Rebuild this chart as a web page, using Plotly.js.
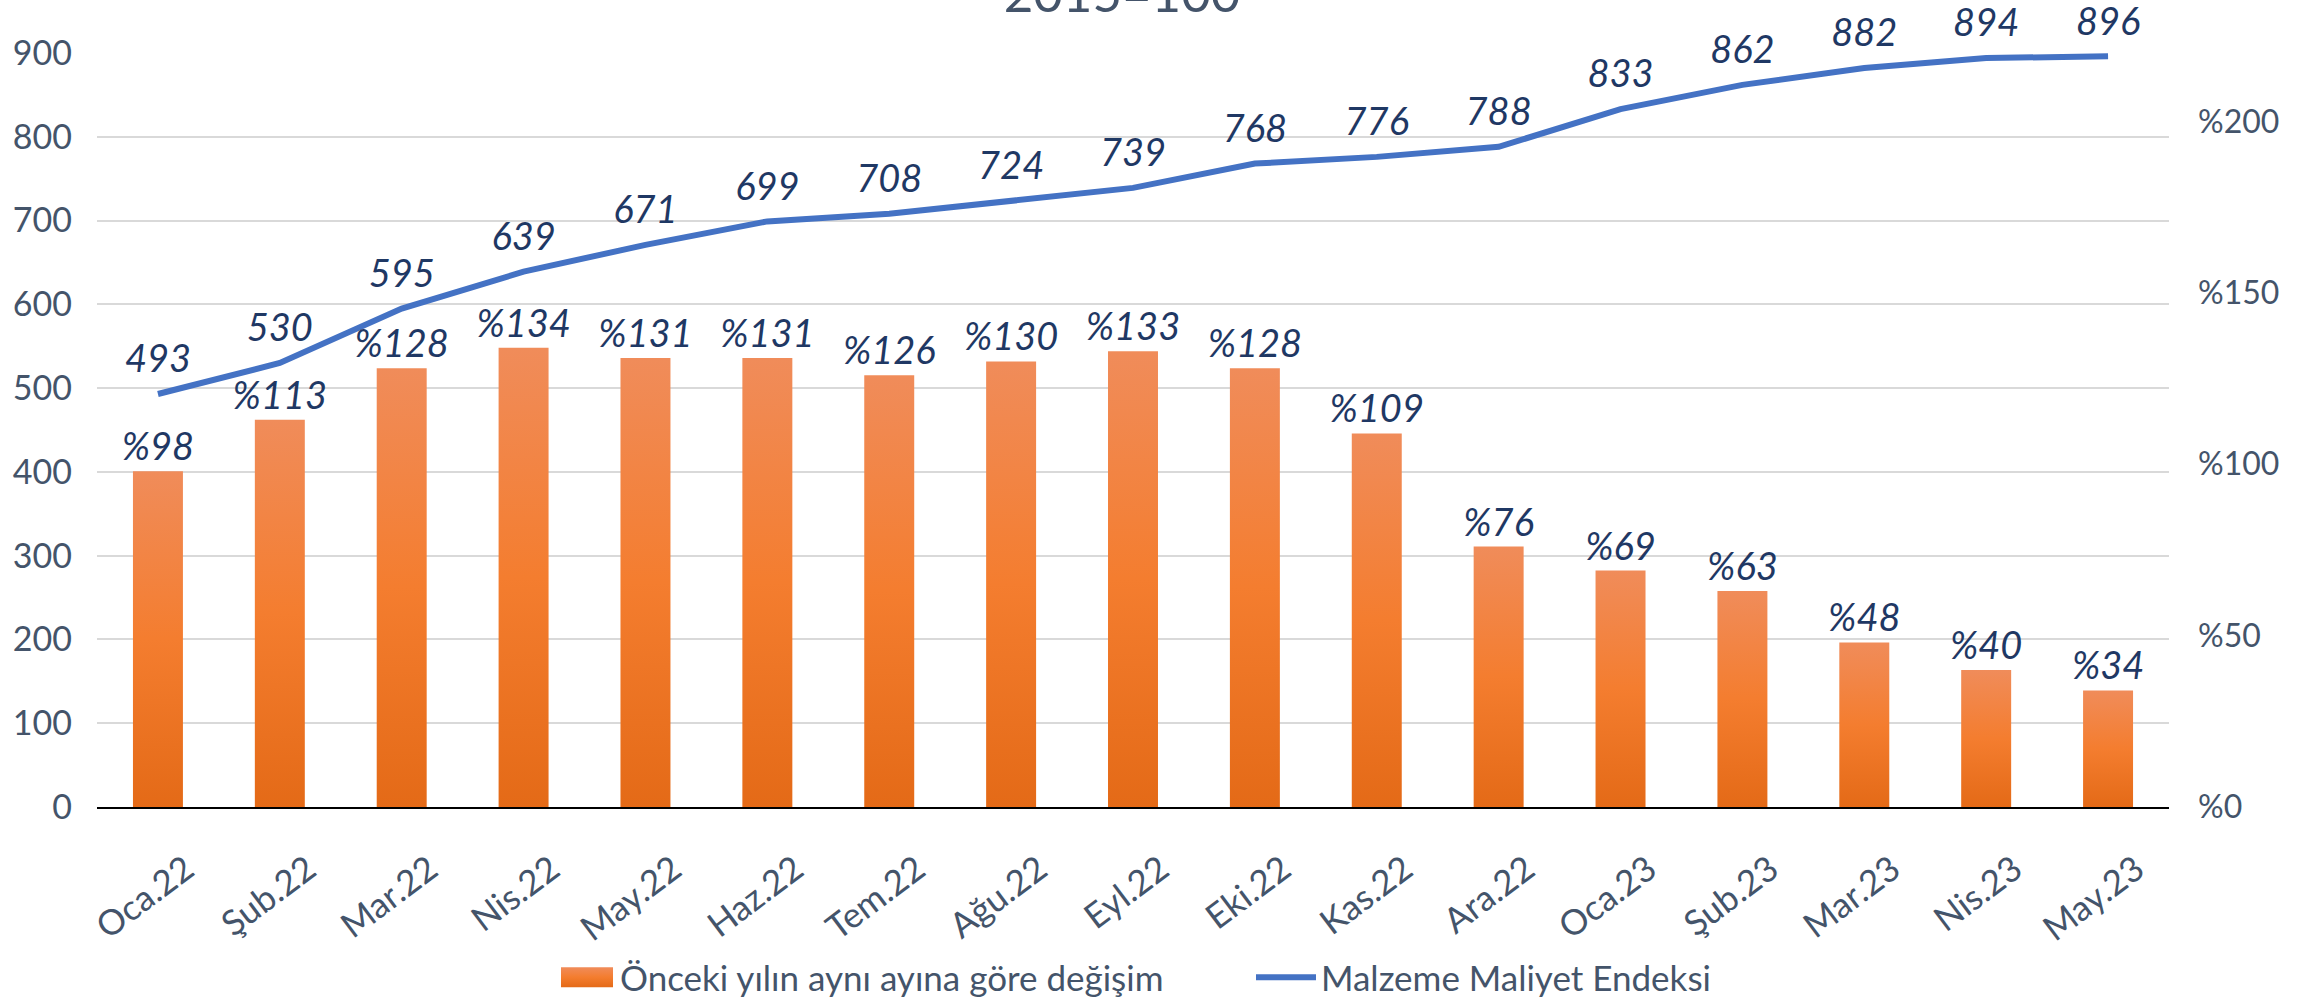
<!DOCTYPE html>
<html>
<head>
<meta charset="utf-8">
<script src="https://cdn.plot.ly/plotly-3.0.1.min.js"></script>
<style>
  html, body { margin: 0; padding: 0; background: #ffffff; }
  #chart { width: 2303px; height: 1002px; }
</style>
</head>
<body>
<div id="chart"></div>
<script>
const categories = ["Oca.22","Şub.22","Mar.22","Nis.22","May.22","Haz.22","Tem.22","Ağu.22","Eyl.22","Eki.22","Kas.22","Ara.22","Oca.23","Şub.23","Mar.23","Nis.23","May.23"];
const changePct = [98,113,128,134,131,131,126,130,133,128,109,76,69,63,48,40,34];
const costIndex = [493,530,595,639,671,699,708,724,739,768,776,788,833,862,882,894,896];
const barName = "Önceki yılın aynı ayına göre değişim";
const lineName = "Malzeme Maliyet Endeksi";
const titleText = "2015=100";
const leftTicks = [0,100,200,300,400,500,600,700,800,900];
const rightTicks = [0,50,100,150,200];
const rightTickText = rightTicks.map(v => "%" + v);

const FONT = "Lato, 'Liberation Sans', sans-serif";
const TICK = "#44546a";
const LABEL = "#1f3864";

const barTrace = {
  type: "bar",
  name: barName,
  x: categories,
  y: changePct,
  yaxis: "y2",
  marker: { color: "#f47d30", line: { width: 14, color: "rgba(0,0,0,0)" } },
  text: changePct.map(v => "%" + v),
  textposition: "outside",
  constraintext: "none",
  cliponaxis: false,
  textfont: { family: FONT, size: 38, color: LABEL, style: "italic" },
  legendwidth: 626,
  hoverinfo: "x+y"
};

const lineTrace = {
  type: "scatter",
  mode: "lines+markers+text",
  name: lineName,
  x: categories,
  y: costIndex,
  yaxis: "y",
  line: { color: "#4472c4", width: 6 },
  marker: { size: 18, opacity: 0, color: "#4472c4" },
  text: costIndex.map(v => String(v)),
  textposition: "top center",
  cliponaxis: false,
  textfont: { family: FONT, size: 38, color: LABEL, style: "italic" },
  hoverinfo: "x+y"
};

const layout = {
  width: 2303,
  height: 1002,
  paper_bgcolor: "#ffffff",
  plot_bgcolor: "#ffffff",
  margin: { l: 97, r: 134, t: 53, b: 195, pad: 0, autoexpand: false },
  font: { family: FONT, color: TICK, size: 34 },
  title: {
    text: titleText,
    font: { family: FONT, size: 51, color: TICK },
    x: 0.4947, xanchor: "center",
    xref: "paper",
    y: 0.988, yanchor: "bottom", yref: "container"
  },
  showlegend: true,
  legend: {
    orientation: "h",
    x: 0.5, xanchor: "center",
    y: -0.226, yanchor: "middle",
    font: { family: FONT, size: 35, color: TICK },
    itemwidth: 60,
    traceorder: "normal",
    bgcolor: "rgba(0,0,0,0)"
  },
  bargap: 0.59,
  xaxis: {
    type: "category",
    range: [-0.5, categories.length - 0.5],
    automargin: false,
    showgrid: false,
    showline: true,
    linecolor: "#000000",
    linewidth: 2,
    ticks: "",
    tickangle: -37,
    ticklabelstandoff: 26,
    ticklabelshift: 28,
    tickfont: { family: FONT, size: 35, color: TICK },
    zeroline: false,
    fixedrange: true
  },
  yaxis: {
    range: [0, 900],
    tickvals: leftTicks,
    automargin: false,
    showgrid: true,
    gridcolor: "#d9d9d9",
    gridwidth: 2,
    zeroline: false,
    showline: false,
    ticks: "",
    ticklabelstandoff: 24,
    tickfont: { family: FONT, size: 34, color: TICK },
    fixedrange: true
  },
  yaxis2: {
    overlaying: "y",
    side: "right",
    range: [0, 220],
    tickvals: rightTicks,
    ticktext: rightTickText,
    automargin: false,
    showgrid: false,
    zeroline: false,
    showline: false,
    ticks: "",
    ticklabelstandoff: 28,
    tickfont: { family: FONT, size: 32, color: TICK },
    fixedrange: true
  }
};

function ensureGradient(gd) {
  const svg = gd.querySelector("svg.main-svg");
  if (!svg || document.getElementById("barGrad")) return;
  const NS = "http://www.w3.org/2000/svg";
  let defs = svg.querySelector("defs");
  if (!defs) { defs = document.createElementNS(NS, "defs"); svg.insertBefore(defs, svg.firstChild); }
  const g = document.createElementNS(NS, "linearGradient");
  g.setAttribute("id", "barGrad");
  g.setAttribute("x1", "0"); g.setAttribute("y1", "0");
  g.setAttribute("x2", "0"); g.setAttribute("y2", "1");
  [["0", "#f08c5a"], ["0.5", "#f47d2f"], ["1", "#e46a17"]].forEach(([o, c]) => {
    const s = document.createElementNS(NS, "stop");
    s.setAttribute("offset", o); s.setAttribute("stop-color", c);
    g.appendChild(s);
  });
  defs.appendChild(g);
}

function styleChart(gd) {
  ensureGradient(gd);
  gd.querySelectorAll(".barlayer .trace.bars .point path").forEach(p => { p.style.fill = "url(#barGrad)"; p.style.stroke = "none"; });
  const items = gd.querySelectorAll(".legend .traces");
  items.forEach((it, i) => {
    if (it.getAttribute("data-fixed")) return;
    const txt = it.querySelector("text.legendtext");
    if (!txt) return;
    const textLeft = txt.getBoundingClientRect().left;
    if (i === 0) {
      it.querySelectorAll(".legendpoints path").forEach(p => {
        const pr = p.getBoundingClientRect();
        const cx = pr.left + pr.width / 2;
        const x2 = textLeft - 7 - cx, x1 = x2 - 52;
        p.setAttribute("d", "M" + x2 + ",10H" + x1 + "V-10H" + x2 + "Z");
        p.style.fill = "url(#barGrad)";
        p.style.stroke = "none";
      });
    } else {
      it.querySelectorAll(".legendpoints .scatterpts").forEach(e => { e.style.display = "none"; });
      it.querySelectorAll(".legendpoints .legendlines path").forEach(p => {
        const pr = p.getBoundingClientRect();
        const localStart = parseFloat((p.getAttribute("d") || "M5,0").slice(1));
        const offset = pr.left - localStart;
        const a = (textLeft - 4 - 58) - offset;
        p.setAttribute("d", "M" + a + ",0h58");
        p.style.strokeWidth = "7px";
        p.style.strokeLinecap = "round";
      });
    }
    it.setAttribute("data-fixed", "1");
  });
}

Plotly.newPlot("chart", [barTrace, lineTrace], layout, { displayModeBar: false, responsive: false })
  .then(gd => { styleChart(gd); gd.on("plotly_afterplot", () => styleChart(gd)); });
</script>
</body>
</html>
